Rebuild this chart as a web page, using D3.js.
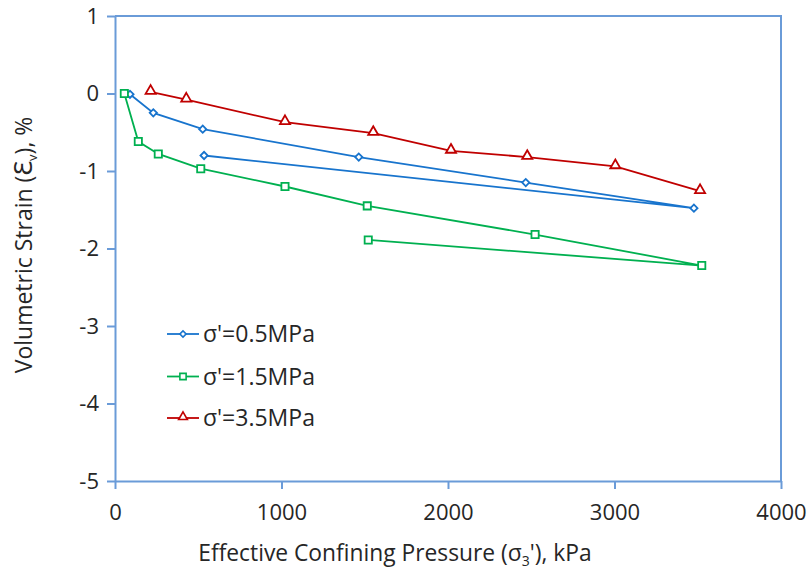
<!DOCTYPE html>
<html>
<head>
<meta charset="utf-8">
<script src="https://cdn.jsdelivr.net/npm/d3@7"></script>
<style>
  body { margin: 0; background: #fff; }
  svg text { font-family: "Open Sans", "Noto Sans", sans-serif; fill: #262626; }
</style>
</head>
<body>
<svg id="chart" width="812" height="569"></svg>
<script>
'use strict';

// Data (kPa, %)
var seriesNames = ["σ'=0.5MPa", "σ'=1.5MPa", "σ'=3.5MPa"];
var pressure05 = [90, 230, 527, 1464, 2467, 3477, 535];
var strain05   = [-0.01, -0.25, -0.46, -0.82, -1.15, -1.48, -0.80];
var pressure15 = [56, 140, 260, 515, 1021, 1515, 2523, 3524, 1521];
var strain15   = [0.0, -0.62, -0.78, -0.97, -1.20, -1.45, -1.82, -2.22, -1.89];
var pressure35 = [214, 428, 1021, 1551, 2018, 2476, 3005, 3514];
var strain35   = [0.02, -0.08, -0.37, -0.51, -0.74, -0.82, -0.94, -1.26];
var xTicks = [0, 1000, 2000, 3000, 4000];
var yTicks = [1, 0, -1, -2, -3, -4, -5];

var colors = ['#1874cd', '#00b050', '#c00000'];

function zip(xs, ys) {
  return xs.map(function(x, i) { return { x: x, y: ys[i] }; });
}
var series = [zip(pressure05, strain05), zip(pressure15, strain15), zip(pressure35, strain35)];

// Marker shapes: diamond (rotated square), square, triangle
function marker(i, scale) {
  if (i === 0) return { d: d3.symbol().type(d3.symbolSquare).size(26 * scale)(), rot: ' rotate(45)' };
  if (i === 1) return { d: d3.symbol().type(d3.symbolSquare).size(52 * scale)(), rot: '' };
  return { d: d3.symbol().type(d3.symbolTriangle).size(44 * scale)(), rot: ' translate(0,-1)' };
}

var svg = d3.select('#chart');
var plotLeft = 115, plotRight = 781, plotTop = 16, plotBottom = 481;

var x = d3.scaleLinear().domain([0, 4000]).range([plotLeft, plotRight]);
var y = d3.scaleLinear().domain([-5, 1]).range([plotBottom, plotTop]);

var axisColor = '#6a9bd8';

// Frame (top and right)
svg.append('path')
  .attr('d', 'M' + plotLeft + ',' + plotTop + 'H' + plotRight + 'V' + plotBottom)
  .attr('fill', 'none').attr('stroke', axisColor).attr('stroke-width', 2);

// Axes
var xAxis = svg.append('g').attr('transform', 'translate(0,' + plotBottom + ')')
  .call(d3.axisBottom(x).tickValues(xTicks).tickSize(8).tickPadding(15).tickSizeOuter(0)
    .tickFormat(d3.format('d')));
var yAxis = svg.append('g').attr('transform', 'translate(' + plotLeft + ',0)')
  .call(d3.axisLeft(y).tickValues(yTicks).tickSize(8).tickPadding(8).tickSizeOuter(0)
    .tickFormat(function(d) { return d < 0 ? '-' + Math.abs(d) : d; }));

[xAxis, yAxis].forEach(function(a) {
  a.select('.domain').attr('stroke', axisColor).attr('stroke-width', 2);
  a.selectAll('.tick line').attr('stroke', axisColor).attr('stroke-width', 2);
  a.selectAll('.tick text').style('font-size', '22px').attr('fill', '#262626');
});
xAxis.selectAll('.tick text').attr('dy', '0.71em');

// Axis titles
svg.append('text')
  .attr('x', 395).attr('y', 561)
  .attr('text-anchor', 'middle')
  .style('font-size', '22.8px')
  .html('Effective Confining Pressure (σ<tspan dy="5" font-size="14px">3</tspan><tspan dy="-5">\'), kPa</tspan>');

svg.append('text')
  .attr('transform', 'translate(32,245) rotate(-90)')
  .attr('text-anchor', 'middle')
  .style('font-size', '23px')
  .html('Volumetric Strain (<tspan font-size="25px">Ɛ</tspan><tspan dy="5" font-size="13px">v</tspan><tspan dy="-5">), %</tspan>');

// Lines and markers
var line = d3.line().x(function(d) { return x(d.x); }).y(function(d) { return y(d.y); });

series.forEach(function(data, i) {
  var g = svg.append('g');
  var m = marker(i, 1);
  g.append('path').datum(data)
    .attr('d', line)
    .attr('fill', 'none')
    .attr('stroke', colors[i])
    .attr('stroke-width', 1.8);
  g.selectAll('path.mark').data(data).enter().append('path')
    .attr('class', 'mark')
    .attr('transform', function(d) {
      return 'translate(' + x(d.x) + ',' + y(d.y) + ')' + m.rot;
    })
    .attr('d', m.d)
    .attr('fill', '#fff')
    .attr('stroke', colors[i])
    .attr('stroke-width', 1.8);
});

// Legend
var legend = svg.append('g');
var legendY = [334, 376.5, 418];
seriesNames.forEach(function(name, i) {
  var ly = legendY[i];
  var m = marker(i, 0.75);
  legend.append('line')
    .attr('x1', 167).attr('x2', 199).attr('y1', ly).attr('y2', ly)
    .attr('stroke', colors[i]).attr('stroke-width', 1.8);
  legend.append('path')
    .attr('transform', 'translate(183,' + ly + ')' + m.rot)
    .attr('d', m.d)
    .attr('fill', '#fff').attr('stroke', colors[i]).attr('stroke-width', 1.6);
  legend.append('text')
    .attr('x', 203).attr('y', ly).attr('dy', '0.35em')
    .style('font-size', '23px')
    .text(name);
});
</script>
</body>
</html>
